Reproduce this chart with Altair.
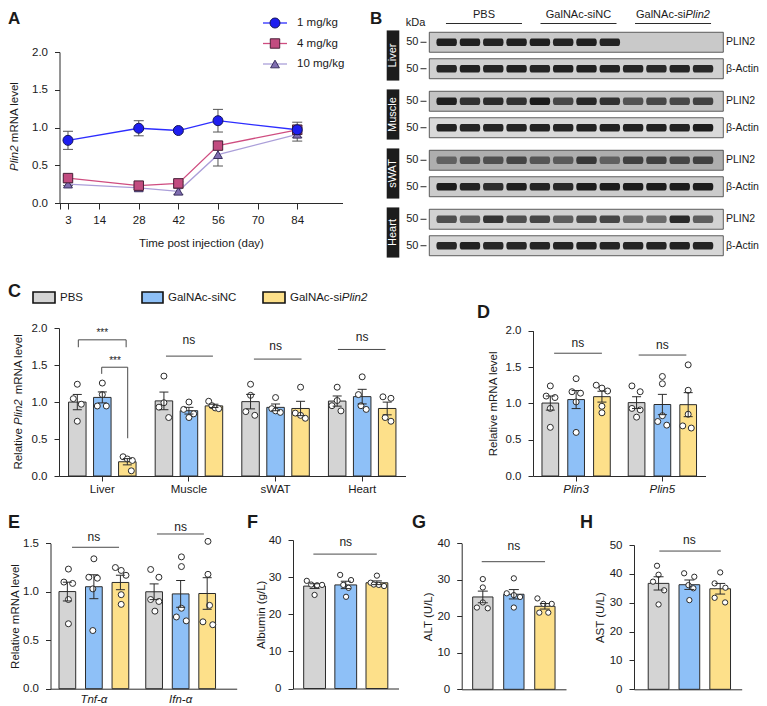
import altair as alt
import pandas as pd

OFF = 8
W, H = 751, 698
FONT = "Liberation Sans"
INK = "#2b2b2b"
TXT = "#1a1a1a"
NSC = "#4a4a4a"
CAP = "M-1,0L1,0"
BLOB = "M-0.82,-0.36L0.82,-0.36Q1,-0.36 1,0Q1,0.36 0.82,0.36L-0.82,0.36Q-1,0.36 -1,0Q-1,-0.36 -0.82,-0.36Z"


def P(v):
    return v - OFF


# ====================== DATA ======================
GROUPS = ["PBS", "GalNAc-siNC", "GalNAc-siPlin2"]
GROUP_FILL = ["#d4d4d4", "#8ec0f7", "#fde08a"]

# ---- Panel A ----
A_doses = ["1 mg/kg", "4 mg/kg", "10 mg/kg"]
A_days = [3, 28, 42, 56, 84]
A_mean_1 = [0.83, 0.99, 0.96, 1.09, 0.97]
A_err_1 = [0.12, 0.10, 0.02, 0.15, 0.10]
A_mean_4 = [0.33, 0.23, 0.26, 0.76, 0.97]
A_err_4 = [0.03, 0.02, 0.02, 0.05, 0.06]
A_mean_10 = [0.25, 0.20, 0.155, 0.64, 0.91]
A_err_10 = [0.02, 0.02, 0.04, 0.15, 0.09]
A_xticks = [0, 3, 14, 28, 42, 56, 70, 84]
A_yticks = [0, 0.5, 1.0, 1.5, 2.0]
A_line_colors = ["#2d2dff", "#cf4d80", "#ab9fd9"]
A_fill_colors = ["#1e1ef0", "#c24c80", "#7f6db0"]
A_edge_colors = ["#15155a", "#4a2038", "#3a3060"]

# ---- Panel B (western blot) ----
B_tissues = ["Liver", "Muscle", "sWAT", "Heart"]
B_proteins = ["PLIN2", "β-Actin"]
B_lanes = list(range(1, 13))
B_liver_plin2 = [0.95, 0.95, 0.93, 0.95, 0.95, 0.93, 0.95, 0.93, 0, 0, 0, 0]
B_liver_actin = [0.92, 0.95, 0.93, 0.95, 0.93, 0.95, 0.95, 0.93, 0.92, 0.9, 0.92, 0.9]
B_muscle_plin2 = [0.95, 0.85, 0.88, 0.85, 0.97, 0.72, 0.9, 0.85, 0.65, 0.72, 0.72, 0.75]
B_muscle_actin = [0.95, 0.93, 0.93, 0.93, 0.95, 0.93, 0.95, 0.95, 0.95, 0.95, 0.95, 0.97]
B_swat_plin2 = [0.5, 0.6, 0.62, 0.68, 0.58, 0.55, 0.78, 0.5, 0.72, 0.72, 0.68, 0.72]
B_swat_actin = [0.97, 0.93, 0.88, 0.95, 0.93, 0.9, 0.97, 0.97, 0.97, 0.97, 0.97, 0.97]
B_heart_plin2 = [0.7, 0.62, 0.85, 0.7, 0.75, 0.62, 0.72, 0.75, 0.55, 0.55, 0.9, 0.62]
B_heart_actin = [0.92, 0.95, 0.92, 0.92, 0.93, 0.93, 0.93, 0.93, 0.93, 0.93, 0.95, 0.93]
B_kda = ["50", "50"]
B_strip_bg = ["#c9c9c9", "#d0d0d0", "#c3c3c3", "#d9d9d9", "#aeaeae", "#cbcbcb", "#d2d2d2", "#d6d6d6"]

# ---- Panel C: relative Plin2 mRNA, 4 tissues x 3 groups (n=4) ----
C_cats = ["Liver", "Muscle", "sWAT", "Heart"]
C_liver = [[1.24, 1.045, 0.97, 0.74], [1.256, 1.10, 0.946, 0.946], [0.26, 0.23, 0.21, 0.07]]
C_muscle = [[1.35, 0.99, 0.93, 0.79], [1.0, 0.9, 0.79, 0.84], [1.01, 0.95, 0.92, 0.91]]
C_swat = [[1.24, 1.09, 0.87, 0.82], [1.06, 0.91, 0.88, 0.86], [1.2, 0.85, 0.82, 0.78]]
C_heart = [[1.2, 1.02, 0.95, 0.88], [1.34, 1.1, 0.95, 0.9], [1.07, 1.05, 0.79, 0.74]]
C_liver_jit = [[0, -0.16, 0.16, 0], [0, 0, -0.2, 0.16], [-0.17, 0, 0.2, 0.16]]
C_muscle_jit = [[0, 0, -0.2, 0.19], [0, -0.21, 0, 0.19], [-0.21, -0.08, 0.05, 0.19]]
C_swat_jit = [[0, 0, -0.19, 0.17], [0, -0.15, 0, 0.19], [0, -0.21, 0, 0.19]]
C_heart_jit = [[0, 0, -0.21, 0.15], [0, -0.15, -0.05, 0.16], [-0.17, 0.15, -0.08, 0.15]]
C_yticks = [0, 0.5, 1.0, 1.5, 2.0]

# ---- Panel D ----
D_cats = ["Plin3", "Plin5"]
D_plin3 = [[1.24, 1.10, 1.08, 0.93, 0.67], [1.34, 1.16, 1.14, 1.02, 0.60], [1.25, 1.21, 1.17, 0.96, 0.87]]
D_plin5 = [[1.24, 1.16, 0.93, 0.91, 0.81], [1.37, 1.27, 0.83, 0.75, 0.70], [1.53, 1.18, 0.85, 0.69, 0.66]]
D_plin3_jit = [[0, -0.16, 0.18, 0, 0], [0, -0.16, 0.17, 0, 0], [-0.22, 0, 0.22, 0, 0]]
D_plin5_jit = [[-0.18, 0.14, -0.18, 0.14, 0], [0, 0, 0, -0.18, 0.17], [0, 0, 0, -0.21, 0.12]]

# ---- Panel E ----
E_cats = ["Tnf-α", "Ifn-α"]
E_tnf = [[1.234, 1.10, 1.086, 0.92, 0.67], [1.34, 1.15, 1.14, 1.03, 0.60], [1.25, 1.22, 1.17, 0.97, 0.87]]
E_ifn = [[1.23, 1.15, 0.92, 0.90, 0.80], [1.36, 1.26, 0.83, 0.74, 0.70], [1.52, 1.18, 0.86, 0.69, 0.66]]
E_tnf_jit = [[0.04, -0.13, 0.2, 0.04, 0.04], [0, -0.19, 0.13, -0.04, -0.04], [-0.19, 0.03, 0.21, 0.03, 0.03]]
E_ifn_jit = [[-0.13, 0.18, -0.13, 0.18, 0.03], [0.03, 0.03, 0.03, -0.16, 0.21], [0.03, 0.03, 0.09, -0.16, 0.21]]
E_yticks = [0, 0.5, 1.0, 1.5]

# ---- Panels F, G, H ----
F_vals = [[29.0, 28.0, 27.8, 27.9, 25.2], [30.6, 29.2, 27.9, 27.1, 24.7], [30.4, 28.5, 28.0, 27.9, 27.6]]
F_jit = [[-0.25, -0.11, 0.08, 0.24, 0], [-0.18, 0.17, -0.08, 0.09, 0.01], [0, -0.2, -0.1, 0.06, 0.23]]
G_vals = [[30.2, 27.9, 23.8, 22.4, 22.2], [30.4, 26.3, 25.8, 25.3, 22.4], [24.9, 23.4, 23.4, 21.0, 21.0]]
G_jit = [[0, 0, 0, -0.19, 0.16], [0, -0.23, 0, 0.2, 0], [-0.24, -0.05, 0.22, -0.18, 0.11]]
H_vals = [[42.8, 39.7, 37.3, 34.3, 29.4], [40.2, 39.0, 36.1, 35.0, 30.9], [40.5, 36.7, 35.2, 31.7, 30.1]]
H_jit = [[-0.05, 0, -0.18, 0.18, 0], [-0.17, 0.16, -0.03, 0.13, 0], [0, -0.18, 0.17, -0.18, 0.16]]
FG_yticks = [0, 10, 20, 30, 40]
H_yticks = [0, 10, 20, 30, 40, 50]


# ====================== HELPERS ======================
def text_layer(txt, x, y, size=11.5, weight="normal", style="normal", align="center",
               baseline="middle", angle=0, color=TXT):
    return alt.Chart(pd.DataFrame({"t": [txt]})).mark_text(
        font=FONT, fontSize=size, fontWeight=weight, fontStyle=style, align=align,
        baseline=baseline, angle=angle, color=color
    ).encode(x=alt.value(x), y=alt.value(y), text="t:N")


def dots_frame(cats, vals_by_cat, jit_by_cat):
    rows = []
    for c, gv, gj in zip(cats, vals_by_cat, jit_by_cat):
        for gi, (g, vs, js) in enumerate(zip(GROUPS, gv, gj)):
            for v, j in zip(vs, js):
                rows.append({"cat": c, "group": g, "gi": gi, "jit": j, "value": v})
    return pd.DataFrame(rows)


def band_geom(span, n, p, q, a=0.5):
    step = span / max(1.0, n - p + 2 * q)
    bw = step * (1 - p)
    start = (span - step * (n - p)) * a
    return step, bw, start


def bar_panel(df, cats, xr, yr, ydom, yticks, yfmt, ytitle=None, ytp=4,
              cat_outer=0.0, cat_align=0.5, p=0.3, q=0.35, galign=0.5,
              xlabels=True, xticks=True, xstyle="normal", xlabpad=2,
              cap=9, dsize=36, segs=(), texts=()):
    x0, x1 = P(xr[0]), P(xr[1])
    y0, y1 = P(yr[0]), P(yr[1])
    n = len(cats)
    stepC, bwC, startC = band_geom(x1 - x0, n, 0, cat_outer, cat_align)
    S = bwC
    step, bw, start = band_geom(S, 3, p, q, galign)
    c0 = start + bw / 2
    xsc = alt.Scale(type="band", domain=cats, range=[x0, x1], paddingInner=0,
                    paddingOuter=cat_outer, align=cat_align, round=False)
    xob = alt.Scale(type="band", domain=GROUPS, range=[0, S], paddingInner=p,
                    paddingOuter=q, align=galign, round=False)
    xoq = alt.Scale(domain=[-c0 / step, (S - c0) / step], range=[0, S], nice=False, zero=False)
    ysc = alt.Scale(domain=ydom, range=[y0, y1], nice=False, zero=False)
    mid0 = x0 + startC + c0 + step
    usc = alt.Scale(domain=[(x0 - mid0) / stepC, (x1 - mid0) / stepC], range=[x0, x1],
                    nice=False, zero=False)

    xaxis = alt.Axis(orient="bottom", offset=y0 - H, title=None, labelAngle=0,
                     labels=xlabels, ticks=xticks, tickSize=5, labelPadding=xlabpad,
                     labelFontStyle=xstyle, labelBaseline="top")
    yaxis = alt.Axis(orient="left", offset=-x0, values=yticks, format=yfmt,
                     title=ytitle, titlePadding=ytp, tickSize=5, labelPadding=7)

    fill = alt.Fill("group:N", scale=alt.Scale(domain=GROUPS, range=GROUP_FILL), legend=None)
    agg = alt.Chart(df).transform_aggregate(
        m="mean(value)", se="stderr(value)", groupby=["cat", "group"]
    ).transform_calculate(lo="datum.m - datum.se", hi="datum.m + datum.se")

    layers = []
    layers.append(agg.mark_bar(stroke=INK, strokeWidth=1).encode(
        x=alt.X("cat:N", scale=xsc, axis=xaxis),
        xOffset=alt.XOffset("group:N", scale=xob),
        y=alt.Y("m:Q", scale=ysc, axis=yaxis),
        y2=alt.datum(0),
        fill=fill,
    ))
    layers.append(alt.Chart(df).transform_calculate(u="datum.gi + datum.jit").mark_circle(
        size=dsize, fill="white", stroke=INK, strokeWidth=1, opacity=1
    ).encode(
        x=alt.X("cat:N", scale=xsc, axis=None),
        xOffset=alt.XOffset("u:Q", scale=xoq),
        y=alt.Y("value:Q", scale=ysc, axis=None),
    ))
    layers.append(agg.mark_rule(color=INK, strokeWidth=1).encode(
        x=alt.X("cat:N", scale=xsc, axis=None),
        xOffset=alt.XOffset("group:N", scale=xob),
        y=alt.Y("lo:Q", scale=ysc, axis=None),
        y2="hi:Q",
    ))
    layers.append(agg.transform_fold(["lo", "hi"], as_=["k", "v"]).mark_point(
        shape=CAP, size=cap * cap, filled=False, stroke=INK, strokeWidth=1, opacity=1
    ).encode(
        x=alt.X("cat:N", scale=xsc, axis=None),
        xOffset=alt.XOffset("group:N", scale=xob),
        y=alt.Y("v:Q", scale=ysc, axis=None),
    ))
    if segs:
        sdf = pd.DataFrame(segs, columns=["ua", "ub", "ya", "yb"])
        layers.append(alt.Chart(sdf).mark_rule(color=NSC, strokeWidth=1).encode(
            x=alt.X("ua:Q", scale=usc, axis=None), x2="ub:Q",
            y=alt.Y("ya:Q", scale=ysc, axis=None), y2="yb:Q",
        ))
    if texts:
        tdf = pd.DataFrame(texts, columns=["u", "y", "t", "s"])
        for s_val in sorted(set(tdf["s"])):
            sub = tdf[tdf["s"] == s_val]
            layers.append(alt.Chart(sub).mark_text(font=FONT, fontSize=s_val, color=TXT,
                                                  baseline="middle").encode(
                x=alt.X("u:Q", scale=usc, axis=None),
                y=alt.Y("y:Q", scale=ysc, axis=None),
                text="t:N",
            ))
    return layers


# ====================== PANEL A ======================
def build_A():
    xs = alt.Scale(domain=[0, 100], range=[P(59.5), P(342.5)], nice=False, zero=False)
    ys = alt.Scale(domain=[0, 2], range=[P(203), P(52)], nice=False, zero=False)
    rows = []
    for dose, ms, es in [("10 mg/kg", A_mean_10, A_err_10), ("4 mg/kg", A_mean_4, A_err_4),
                         ("1 mg/kg", A_mean_1, A_err_1)]:
        for d, m, e in zip(A_days, ms, es):
            rows.append(dict(dose=dose, day=d, m=m, lo=m - e, hi=m + e))
    df = pd.DataFrame(rows)
    xaxis = alt.Axis(orient="bottom", offset=P(203) - H, values=A_xticks,
                     labelExpr="datum.value == 0 ? '' : datum.label",
                     title="Time post injection (day)", titlePadding=12, tickSize=6,
                     labelPadding=5, labelFlush=False)
    yaxis = alt.Axis(orient="left", offset=-P(59.5), values=A_yticks, format=".1f",
                     title=None, tickSize=5, labelPadding=7)
    col = alt.Color("dose:N", scale=alt.Scale(domain=A_doses, range=A_line_colors), legend=None)
    shp = alt.Shape("dose:N", scale=alt.Scale(domain=A_doses, range=["circle", "square", "triangle-up"]), legend=None)
    fil = alt.Fill("dose:N", scale=alt.Scale(domain=A_doses, range=A_fill_colors), legend=None)
    stk = alt.Stroke("dose:N", scale=alt.Scale(domain=A_doses, range=A_edge_colors), legend=None)
    siz = alt.Size("dose:N", scale=alt.Scale(domain=A_doses, range=[100, 78, 90]), legend=None)
    base = alt.Chart(df)
    L = []
    L.append(base.mark_line(strokeWidth=1.3).encode(
        x=alt.X("day:Q", scale=xs, axis=xaxis), y=alt.Y("m:Q", scale=ys, axis=yaxis), color=col))
    L.append(base.mark_rule(color="#555", strokeWidth=1).encode(
        x=alt.X("day:Q", scale=xs, axis=None), y=alt.Y("lo:Q", scale=ys, axis=None), y2="hi:Q"))
    L.append(base.transform_fold(["lo", "hi"], as_=["k", "v"]).mark_point(
        shape=CAP, size=100, filled=False, stroke="#555", strokeWidth=1, opacity=1).encode(
        x=alt.X("day:Q", scale=xs, axis=None), y=alt.Y("v:Q", scale=ys, axis=None)))
    L.append(base.mark_point(filled=True, opacity=1, strokeWidth=1).encode(
        x=alt.X("day:Q", scale=xs, axis=None), y=alt.Y("m:Q", scale=ys, axis=None),
        shape=shp, fill=fil, stroke=stk, size=siz))
    # legend
    ldf = pd.DataFrame({"dose": A_doses})
    lys = alt.Scale(type="point", domain=A_doses, range=[P(23), P(64)], padding=0)
    lb = alt.Chart(ldf)
    L.append(lb.mark_rule(strokeWidth=1.3).encode(
        x=alt.value(P(263)), x2=alt.value(P(287)), y=alt.Y("dose:N", scale=lys, axis=None), color=col))
    L.append(lb.mark_point(filled=True, opacity=1, strokeWidth=1).encode(
        x=alt.value(P(275)), y=alt.Y("dose:N", scale=lys, axis=None),
        shape=shp, fill=fil, stroke=stk, size=siz))
    L.append(lb.mark_text(font=FONT, fontSize=11.5, align="left", baseline="middle", color=TXT).encode(
        x=alt.value(P(297)), y=alt.Y("dose:N", scale=lys, axis=None), text="dose:N"))
    # y title with italic gene name
    L.append(text_layer("Plin2", P(15), P(171), style="italic", align="left", angle=270))
    L.append(text_layer("mRNA level", P(15), P(171) - 28.8, align="left", angle=270))
    L.append(text_layer("A", 0, 16, size=17, weight="bold", align="left", baseline="alphabetic"))
    return L


# ====================== PANEL B ======================
def build_B():
    L = []
    tsc = alt.Scale(type="band", domain=B_tissues, range=[P(26), P(262)], paddingInner=0.15,
                    paddingOuter=0.075, round=False)
    stepT = (262 - 26) / (4 - 0.15 + 0.15)
    bwT = stepT * 0.85
    psc = alt.Scale(type="band", domain=B_proteins, range=[0, bwT], paddingInner=0.245,
                    paddingOuter=0.07, round=False)
    lsc = alt.Scale(type="band", domain=B_lanes, range=[P(435), P(714.7)], paddingInner=0,
                    paddingOuter=0, round=False)
    inten = [B_liver_plin2, B_liver_actin, B_muscle_plin2, B_muscle_actin,
             B_swat_plin2, B_swat_actin, B_heart_plin2, B_heart_actin]
    strips, bands = [], []
    k = 0
    for t in B_tissues:
        for pi, pr in enumerate(B_proteins):
            strips.append({"tissue": t, "protein": pr, "bg": B_strip_bg[k], "kda": B_kda[pi]})
            for ln, v in zip(B_lanes, inten[k]):
                bands.append({"tissue": t, "protein": pr, "lane": ln, "inten": v})
            k += 1
    sdf = pd.DataFrame(strips)
    bdf = pd.DataFrame(bands)
    ty = alt.Y("tissue:N", scale=tsc, axis=None)
    py = alt.YOffset("protein:N", scale=psc)
    # tissue label boxes
    tdf = pd.DataFrame({"tissue": B_tissues})
    L.append(alt.Chart(tdf).mark_rect(fill="#1c1c1c").encode(
        x=alt.value(P(386.7)), x2=alt.value(P(399.3)), y=ty))
    L.append(alt.Chart(tdf).mark_text(font=FONT, fontSize=11, color="white", angle=270,
                                      baseline="middle").encode(
        x=alt.value(P(393)), y=ty, text="tissue:N"))
    # strips
    L.append(alt.Chart(sdf).mark_rect(stroke="#3a3a3a", strokeWidth=0.8).encode(
        x=alt.value(P(429.3)), x2=alt.value(P(723.3)), y=ty, yOffset=py,
        fill=alt.Fill("bg:N", scale=None)))
    # bands
    L.append(alt.Chart(bdf).mark_point(shape=BLOB, size=420, filled=True, fill="#0d0d0d",
                                       strokeWidth=0).encode(
        x=alt.X("lane:O", scale=lsc, axis=None), y=ty, yOffset=py,
        opacity=alt.Opacity("inten:Q", scale=alt.Scale(domain=[0, 1], range=[0, 0.95]), legend=None)))
    # kDa markers
    L.append(alt.Chart(sdf).mark_text(font=FONT, fontSize=11, align="right", baseline="middle",
                                      color=TXT).encode(
        x=alt.value(P(418.5)), y=ty, yOffset=py, text="kda:N"))
    L.append(alt.Chart(sdf).mark_point(shape=CAP, size=36, filled=False, stroke=INK,
                                       strokeWidth=1, opacity=1).encode(
        x=alt.value(P(423.5)), y=ty, yOffset=py))
    L.append(alt.Chart(sdf).mark_text(font=FONT, fontSize=10.5, align="left", baseline="middle",
                                      color=TXT).encode(
        x=alt.value(P(726)), y=ty, yOffset=py, text="protein:N"))
    L.append(text_layer("kDa", P(415.5), P(23), size=11))
    # group headers
    gsc = alt.Scale(type="band", domain=GROUPS, range=[P(436.7), P(720.3)], paddingInner=0.196,
                    paddingOuter=0.098, round=False)
    gdf = pd.DataFrame({"group": GROUPS})
    L.append(alt.Chart(gdf).mark_rect(fill=INK).encode(
        x=alt.X("group:N", scale=gsc, axis=None), y=alt.value(P(23)), y2=alt.value(P(24))))
    L.append(alt.Chart(gdf.iloc[:2]).mark_text(font=FONT, fontSize=11, baseline="middle",
                                               color=TXT).encode(
        x=alt.X("group:N", scale=gsc, axis=None), y=alt.value(P(14.5)), text="group:N"))
    L.append(text_layer("GalNAc-si", P(636), P(14.5), size=11, align="left"))
    L.append(text_layer("Plin2", P(685.5), P(14.5), size=11, align="left", style="italic"))
    L.append(text_layer("B", P(370), 16, size=17, weight="bold", align="left", baseline="alphabetic"))
    return L


# ====================== PANEL C ======================
def build_C():
    df = dots_frame(C_cats, [C_liver, C_muscle, C_swat, C_heart],
                    [C_liver_jit, C_muscle_jit, C_swat_jit, C_heart_jit])
    segs = [
        (-0.277, 0.275, 1.84, 1.84), (-0.277, -0.277, 1.84, 1.74), (0.275, 0.275, 1.84, 1.74),
        (-0.007, 0.293, 1.47, 1.47), (-0.007, -0.007, 1.47, 1.38), (0.293, 0.293, 1.47, 0.51),
        (1 - 0.265, 1 + 0.277, 1.62, 1.62),
        (2 - 0.25, 2 + 0.30, 1.58, 1.58),
        (3 - 0.28, 3 + 0.27, 1.71, 1.71),
    ]
    texts = [(0, 1.93, "***", 10), (0.147, 1.555, "***", 10),
             (1, 1.84, "ns", 12), (2, 1.76, "ns", 12), (3, 1.885, "ns", 12)]
    L = bar_panel(df, C_cats, xr=(59, 405.5), yr=(476, 328), ydom=[0, 2], yticks=C_yticks,
                  yfmt=".1f", p=0.3, q=0.382, cap=9, segs=segs, texts=texts)
    # y title
    L.append(text_layer("Relative", P(19), P(469.6), align="left", angle=270))
    L.append(text_layer("Plin2", P(19), P(424.9), align="left", angle=270, style="italic"))
    L.append(text_layer("mRNA level", P(19), P(394.3), align="left", angle=270))
    # legend
    for (xa, xb), colr in zip([(33, 55), (142, 163), (263, 285)], GROUP_FILL):
        L.append(alt.Chart(pd.DataFrame({"k": [0]})).mark_rect(fill=colr, stroke="#111",
                                                              strokeWidth=1.6).encode(
            x=alt.value(P(xa)), x2=alt.value(P(xb)), y=alt.value(P(292)), y2=alt.value(P(303))))
    L.append(text_layer("PBS", P(60), P(297.5), align="left"))
    L.append(text_layer("GalNAc-siNC", P(168), P(297.5), align="left"))
    L.append(text_layer("GalNAc-si", P(290), P(297.5), align="left"))
    L.append(text_layer("Plin2", P(290 + 51.75), P(297.5), align="left", style="italic"))
    L.append(text_layer("C", 0, P(297), size=18, weight="bold", align="left", baseline="alphabetic"))
    return L


def build_D():
    df = dots_frame(D_cats, [D_plin3, D_plin5], [D_plin3_jit, D_plin5_jit])
    segs = [(-0.255, 0.299, 1.69, 1.69), (1 - 0.275, 1 + 0.278, 1.665, 1.665)]
    texts = [(0.02, 1.825, "ns", 12), (1, 1.80, "ns", 12)]
    L = bar_panel(df, D_cats, xr=(533, 705.5), yr=(476, 330.7), ydom=[0, 2], yticks=C_yticks,
                  yfmt=".1f", ytitle="Relative mRNA level", ytp=7, p=0.353, q=0.348,
                  xstyle="italic", cap=9, segs=segs, texts=texts)
    L.append(text_layer("D", P(477), P(318), size=18, weight="bold", align="left", baseline="alphabetic"))
    return L


def build_E():
    df = dots_frame(E_cats, [E_tnf, E_ifn], [E_tnf_jit, E_ifn_jit])
    segs = [(-0.252, 0.29, 1.459, 1.459), (1 - 0.273, 1 + 0.268, 1.596, 1.596)]
    texts = [(0, 1.568, "ns", 12), (1, 1.672, "ns", 12)]
    L = bar_panel(df, E_cats, xr=(50.5, 236.7), yr=(688.7, 543.3), ydom=[0, 1.5], yticks=E_yticks,
                  yfmt=".1f", ytitle="Relative mRNA level", ytp=2, cat_outer=0.073, cat_align=0.0,
                  p=0.37, q=0.32, xstyle="italic", xticks=False, xlabpad=5, cap=9,
                  segs=segs, texts=texts)
    L.append(text_layer("E", 0, P(528), size=18, weight="bold", align="left", baseline="alphabetic"))
    return L


def build_single(vals, jit, name, xr, yr, ydom, yticks, ytitle, ytp, p, q, galign, letter, lx, seg, txt):
    df = dots_frame([name], [vals], [jit])
    return bar_panel(df, [name], xr=xr, yr=yr, ydom=ydom, yticks=yticks, yfmt="d",
                     ytitle=ytitle, ytp=ytp, p=p, q=q, galign=galign, xlabels=False,
                     xticks=False, cap=10, dsize=28, segs=[seg], texts=[txt]) + [
        text_layer(letter, P(lx), P(528), size=18, weight="bold", align="left", baseline="alphabetic")]


layers = []
layers += build_A()
layers += build_B()
layers += build_C()
layers += build_D()
layers += build_E()
layers += build_single(F_vals, F_jit, "Albumin", (293, 398.5), (688.5, 540), [0, 40], FG_yticks,
                       "Albumin (g/L)", 2, 0.30, 0.343, 0.5, "F", 247,
                       (-0.307, 0.294, 36.2, 36.2), (0, 39.5, "ns", 12))
layers += build_single(G_vals, G_jit, "ALT", (461.7, 566), (689.3, 543.3), [0, 40], FG_yticks,
                       "ALT (U/L)", 3, 0.346, 0.353, 0.5, "G", 412,
                       (-0.308, 0.299, 34.96, 34.96), (0, 39.3, "ns", 12))
layers += build_single(H_vals, H_jit, "AST", (634, 741.7), (689.3, 545), [0, 50], H_yticks,
                       "AST (U/L)", 4, 0.328, 0.412, 0.56, "H", 580,
                       (-0.279, 0.292, 47.9, 47.9), (0, 51.7, "ns", 12))

chart = alt.layer(*layers).resolve_scale(
    x="independent", y="independent", xOffset="independent", yOffset="independent",
    color="independent", fill="independent", stroke="independent", shape="independent",
    size="independent", opacity="independent",
).properties(
    width=W, height=H, padding=0, autosize=alt.AutoSizeParams(type="none"),
).configure_view(stroke=None).configure_axis(
    grid=False, labelFont=FONT, titleFont=FONT, labelFontSize=11.5, titleFontSize=11.5,
    titleFontWeight="normal", labelColor=TXT, titleColor=TXT, domainColor=INK, tickColor=INK,
    domainWidth=1, tickWidth=1,
)

chart.save("out.html", embed_options={"renderer": "svg", "actions": False})
